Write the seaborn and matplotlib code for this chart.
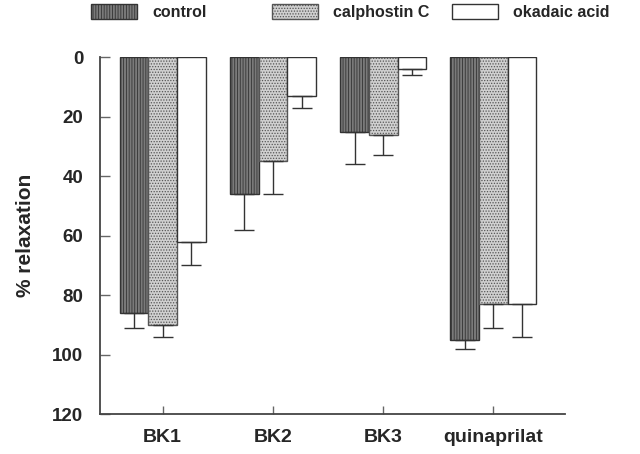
import matplotlib
matplotlib.use("Agg")
import matplotlib.pyplot as plt
import seaborn as sns
import pandas as pd
from matplotlib.patches import Patch

categories = ["BK1", "BK2", "BK3", "quinaprilat"]
treatments = ["control", "calphostin C", "okadaic acid"]
control = [86, 46, 25, 95]
calphostin = [90, 35, 26, 83]
okadaic = [62, 13, 4, 83]
control_err = [5, 12, 11, 3]
calphostin_err = [4, 11, 7, 8]
okadaic_err = [8, 4, 2, 11]
yticks = [0, 20, 40, 60, 80, 100, 120]

rows = []
for t, vals, errs in [("control", control, control_err),
                      ("calphostin C", calphostin, calphostin_err),
                      ("okadaic acid", okadaic, okadaic_err)]:
    for c, v, e in zip(categories, vals, errs):
        rows.append({"cat": c, "treat": t, "val": v, "err": e})
df = pd.DataFrame(rows)

sns.set_theme(style="white")
plt.rcParams["font.family"] = ["Liberation Sans", "DejaVu Sans"]
plt.rcParams["hatch.linewidth"] = 0.6

fig = plt.figure(figsize=(6.4, 4.54), dpi=100)
ax = fig.add_axes([0.156, 0.088, 0.727, 0.786])

styles = {
    "control": dict(fc="#7a7a7a", hatch="||||||", ec="#333333"),
    "calphostin C": dict(fc="#d0d0d0", hatch="......", ec="#555555"),
    "okadaic acid": dict(fc="#ffffff", hatch=None, ec="#333333"),
}

sns.barplot(data=df, x="cat", y="val", hue="treat", order=categories,
            hue_order=treatments, width=0.78, errorbar=None, ax=ax,
            legend=False, palette=["#7a7a7a", "#d0d0d0", "#ffffff"])

for cont, t in zip(ax.containers, treatments):
    st = styles[t]
    sub = df[df.treat == t].set_index("cat").loc[categories]
    for bar, (_, r) in zip(cont, sub.iterrows()):
        bar.set_facecolor(st["fc"])
        bar.set_edgecolor(st["ec"])
        bar.set_linewidth(1.0)
        if st["hatch"]:
            bar.set_hatch(st["hatch"])
        xc = bar.get_x() + bar.get_width() / 2
        ax.errorbar([xc], [r["val"]], yerr=[[0], [r["err"]]], fmt="none",
                    ecolor="#333333", elinewidth=1.0, capsize=7, capthick=1.0,
                    zorder=1)

ax.set_ylim(120, 0)
ax.set_xlim(-0.57, 3.65)
ax.set_yticks(yticks)
ax.set_yticklabels([str(v) for v in yticks], fontsize=13.5, fontweight="bold")
ax.set_xticks(range(len(categories)))
ax.set_xticklabels(categories, fontsize=14, fontweight="bold")
ax.set_xlabel("")
ax.set_ylabel("% relaxation", fontsize=15, fontweight="bold", labelpad=12)
for s in ["top", "right"]:
    ax.spines[s].set_visible(False)
for s in ["left", "bottom"]:
    ax.spines[s].set_color("#444444")
    ax.spines[s].set_linewidth(1.3)
ax.tick_params(axis="y", direction="in", length=7, width=1, color="#666666",
               pad=12, left=True)
ax.tick_params(axis="x", direction="in", length=6, width=1, color="#666666",
               pad=11, bottom=True)

pos = [0.142, 0.425, 0.706]
for t, x in zip(treatments, pos):
    st = styles[t]
    h = Patch(facecolor=st["fc"], edgecolor=st["ec"], hatch=st["hatch"], linewidth=1.0)
    fig.legend([h], [t], loc="upper left", bbox_to_anchor=(x, 1.0 - 4 / 454),
               frameon=False, borderpad=0, borderaxespad=0,
               handlelength=2.9, handleheight=1.1, handletextpad=0.95,
               prop={"weight": "bold", "size": 11.5})

fig.savefig("out.png", dpi=100)
